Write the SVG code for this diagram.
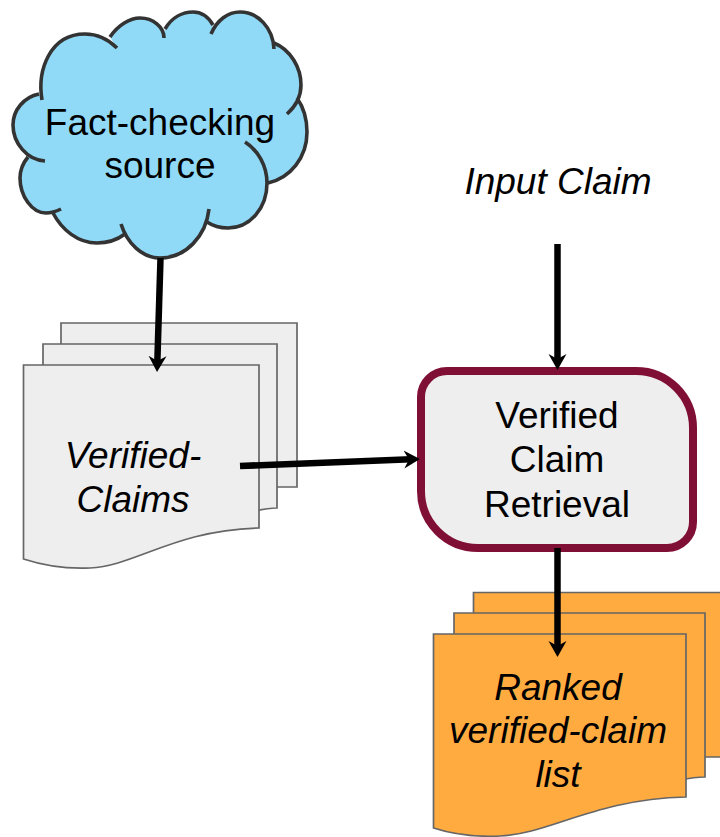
<svg xmlns="http://www.w3.org/2000/svg" width="720" height="837" viewBox="0 0 720 837">
<style>
text{font-family:"Liberation Sans",Arial,sans-serif;font-size:37px;fill:#000;text-anchor:middle}
.i{font-style:italic}
.g{fill:#eeeeee;stroke:#666;stroke-width:1.7;stroke-linejoin:miter}
.o{fill:#ffab40;stroke:#666;stroke-width:1.7;stroke-linejoin:miter}
.c{fill:none;stroke:#333;stroke-width:3.6;stroke-linecap:butt}
.a{fill:none;stroke:#000;stroke-width:6.500;marker-end:url(#h)}
</style>
<defs>
<marker id="h" markerUnits="userSpaceOnUse" markerWidth="18" markerHeight="20" viewBox="0 0 18 20" refX="7" refY="9.500" orient="auto"><path d="M0 0.500L16 9.500L0 18.500L5 9.500Z" fill="#000"/></marker>
</defs>
<g id="cloud">
<path fill="#90d9f7" d="M42 100C37 70 50 34 85 34C98 34 109 40 117 48L110 37C118 25 130 18 140 18C153 18 164 27 164 38L165 29C172 17 183 12 193 12C202 12 209 18 213 25L211 34C217 20 228 12 240 12C258 12 273 28 274 49L274 43C291 50 301 68 301 85C301 95 296 106 287 114L297 98C304 108 307 120 307 132C307 158 290 178 268 183C267 208 250 228 228 228C220 228 213 226 207 222L209 209C206 236 186 258 160 258C142 258 127 243 121 224L125 234C117 240 107 243 97 243C78 243 62 230 53 213L61 209C55 212 50 213 46 213C32 213 20 196 20 178C20 170 23 163 28 157L45 161C27 160 13 143 13 125C13 110 24 97 39 94Z"/>
<path class="c" d="M42 100C37 70 50 34 85 34C98 34 109 40 117 48"/>
<path class="c" d="M110 37C118 25 130 18 140 18C153 18 164 27 164 38"/>
<path class="c" d="M165 29C172 17 183 12 193 12C202 12 209 18 213 25"/>
<path class="c" d="M211 34C217 20 228 12 240 12C258 12 273 28 274 49"/>
<path class="c" d="M274 43C291 50 301 68 301 85C301 95 296 106 287 114"/>
<path class="c" d="M297 98C304 108 307 120 307 132C307 158 290 178 268 183"/>
<path class="c" d="M245 142C258 150 267 166 267 183C267 208 250 228 228 228C220 228 213 226 207 222"/>
<path class="c" d="M209 209C206 236 186 258 160 258C142 258 127 243 121 224"/>
<path class="c" d="M125 234C117 240 107 243 97 243C78 243 62 230 53 213"/>
<path class="c" d="M61 209C55 212 50 213 46 213C32 213 20 196 20 178C20 170 23 163 28 157"/>
<path class="c" d="M45 161C27 160 13 143 13 125C13 110 24 97 39 94"/>
<text x="160" y="135">Fact-checking</text>
<text x="160" y="178">source</text>
</g>
<g id="input-claim"><text class="i" x="558" y="194">Input Claim</text></g>
<g id="verified-claims">
<path class="g" d="M61 323H297V487H270V500H61Z"/>
<path class="g" d="M43 344H277V508C270 508 264 509 255 511V515H43Z"/>
<path class="g" d="M23.500 365H259V528C175 530 135 566 90 568C68 569 45 566 23.500 559Z"/>
<text class="i" x="133" y="468">Verified-</text>
<text class="i" x="133" y="512">Claims</text>
</g>
<g id="retrieval">
<path d="M447 371H636A57 57 0 0 1 693 428V522A26 26 0 0 1 667 548H478A57 57 0 0 1 421 491V397A26 26 0 0 1 447 371Z" fill="#eeeeee" stroke="#800f35" stroke-width="8"/>
<text x="557" y="428">Verified</text>
<text x="557" y="472">Claim</text>
<text x="557" y="517">Retrieval</text>
</g>
<g id="ranked-list">
<path class="o" d="M473.500 592.500H730V757H700V765H473.500Z"/>
<path class="o" d="M454 613H705V777C698 777 690 778 680 780V785H454Z"/>
<path class="o" d="M433.500 634H686V797C595 799 550 834 500 836C478 837 455 835 433.500 828Z"/>
<text class="i" x="558" y="700">Ranked</text>
<text class="i" x="558" y="743">verified-claim</text>
<text class="i" x="558" y="787">list</text>
</g>
<g id="connectors">
<path class="a" d="M160.500 258L157.300 363"/>
<path class="a" d="M557.500 244V361"/>
<path class="a" d="M240 466L411 459.300"/>
<path class="a" d="M557.500 548V648"/>
</g>
</svg>
